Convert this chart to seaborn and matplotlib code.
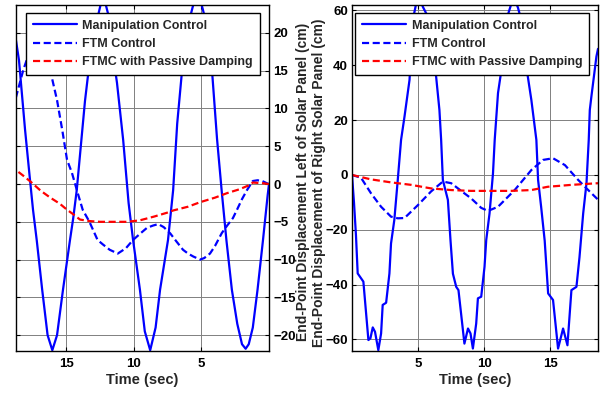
import matplotlib
matplotlib.use("Agg")
import matplotlib.pyplot as plt
import seaborn as sns

# ---------------- data ----------------
# Left solar panel (time axis reversed in the plot)
left_mc_t = [0.0, 0.1, 0.45, 0.85, 1.2, 1.5, 1.73, 2.0, 2.35, 2.75, 3.15, 3.5, 3.85,
             4.2, 4.6, 5.0, 5.3, 5.6, 6.0, 6.37, 6.8, 7.1, 7.48, 8.07, 8.4, 8.8, 9.2,
             9.56, 10.07, 10.4, 10.8, 11.26, 11.5, 11.8, 12.1, 12.4, 12.74, 13.3,
             13.63, 14.24, 14.5, 14.74, 15.26, 15.7, 16.05, 16.4, 16.8, 17.2, 17.48,
             17.7, 18.07, 18.52, 18.74]
left_mc_v = [0.0, -1.5, -7.5, -14.0, -19.0, -21.2, -21.8, -21.2, -18.5, -14.0, -7.5,
             -1.0, 6.0, 14.5, 21.0, 23.8, 24.3, 23.8, 21.0, 16.4, 8.0, -0.8, -7.4,
             -14.0, -19.0, -22.0, -19.5, -14.0, -7.4, -2.5, 5.8, 13.4, 16.4, 21.7,
             23.8, 24.3, 21.7, 16.0, 11.0, -0.8, -4.5, -7.4, -14.0, -20.0, -22.0,
             -20.0, -14.0, -7.5, -3.4, 0.5, 7.2, 16.4, 19.0]

left_ftm_t = [0.0, 0.15, 0.5, 0.85, 1.2, 1.63, 2.0, 2.37, 2.67, 3.1, 3.5, 4.0, 4.37,
              4.8, 5.1, 5.6, 6.0, 6.37, 6.9, 7.33, 7.8, 8.2, 8.6, 9.04, 9.5, 10.07,
              10.6, 11.2, 11.8, 12.3, 12.7, 13.3, 13.8, 14.2, 14.6, 14.96, 15.3,
              15.7, 16.2, 16.7, 17.1, 17.7, 18.2, 18.74]
left_ftm_v = [0.0, 0.1, 0.4, 0.5, 0.4, -0.8, -2.0, -3.4, -4.5, -5.5, -6.5, -8.2, -9.2,
              -9.8, -10.0, -9.6, -9.2, -8.7, -7.5, -6.5, -5.7, -5.3, -5.5, -5.8, -6.5,
              -7.4, -8.5, -9.2, -8.7, -8.0, -7.4, -5.0, -3.4, -1.0, 1.5, 3.2, 7.0,
              11.1, 15.0, 18.0, 19.2, 17.7, 15.1, 11.5]

left_pd_t = [0.0, 0.44, 1.2, 1.4, 2.2, 3.1, 4.0, 5.1, 6.0, 7.1, 7.56, 8.5, 9.56, 10.5,
             11.5, 12.5, 13.3, 14.0, 14.5, 14.96, 15.5, 16.2, 16.9, 17.65, 18.2, 18.74]
left_pd_v = [0.0, 0.1, 0.2, -0.1, -0.7, -1.2, -1.8, -2.4, -3.0, -3.5, -3.8, -4.3, -4.8,
             -5.0, -5.0, -5.0, -4.9, -4.7, -4.0, -3.4, -2.6, -1.8, -0.9, 0.3, 1.1, 1.85]

# Right solar panel
right_mc_t = [0.0, 0.15, 0.3, 0.43, 0.86, 1.24, 1.39, 1.57, 1.74, 1.99, 2.2, 2.32, 2.58,
              2.83, 2.95, 3.2, 3.46, 3.71, 3.97, 4.35, 4.47, 4.6, 4.85, 5.15, 5.35,
              5.86, 5.98, 6.24, 6.36, 6.61, 6.74, 6.87, 7.25, 7.45, 7.63, 7.88, 8.05,
              8.5, 8.77, 8.96, 9.14, 9.39, 9.52, 9.77, 10.02, 10.15, 10.4, 10.66,
              10.79, 11.04, 11.41, 11.67, 12.05, 12.27, 12.55, 13.06, 13.18, 13.56,
              13.94, 14.07, 14.3, 14.57, 14.83, 15.2, 15.58, 15.96, 16.29, 16.59,
              16.97, 17.2, 17.48, 17.73, 17.9, 17.98, 18.1, 18.48, 18.6]
right_mc_v = [0.0, -10.0, -22.0, -35.9, -38.9, -60.2, -59.6, -55.6, -57.2, -63.9,
              -57.8, -47.4, -46.6, -35.9, -25.0, -16.4, -1.8, 12.8, 21.3, 34.7, 45.6,
              56.6, 62.5, 64.5, 61.4, 56.6, 51.8, 39.5, 35.9, 23.7, 12.8, -1.8, -9.1,
              -24.0, -36.0, -40.8, -42.0, -61.5, -56.0, -57.8, -63.3, -54.2, -45.0,
              -44.4, -33.5, -23.7, -14.0, 0.6, 12.8, 29.9, 42.0, 56.6, 62.5, 64.5,
              61.0, 51.8, 39.5, 27.4, 12.8, -1.8, -11.6, -24.0, -43.2, -45.6, -63.3,
              -56.0, -62.1, -42.0, -40.8, -30.0, -14.0, -3.0, 12.8, 23.7, 28.6, 43.2,
              46.0]

right_ftm_t = [0.0, 0.68, 1.44, 2.2, 2.95, 3.46, 3.97, 4.98, 5.98, 6.87, 7.5, 8.5, 9.0,
               9.4, 9.77, 10.28, 11.04, 12.3, 13.56, 14.45, 15.2, 16.1, 17.1, 17.86,
               18.6]
right_ftm_v = [0.0, -1.0, -6.7, -11.6, -15.2, -15.8, -15.7, -11.0, -6.0, -2.4, -3.0,
               -6.7, -8.5, -10.3, -12.0, -13.1, -11.6, -5.5, 1.8, 5.5, 6.1, 3.6, -1.8,
               -5.5, -9.0]

right_pd_t = [0.0, 1.44, 2.95, 4.47, 5.98, 7.5, 9.0, 10.5, 12.0, 13.56, 14.8, 16.6, 18.6]
right_pd_v = [0.0, -1.6, -2.7, -3.6, -4.9, -5.5, -5.8, -5.8, -5.8, -5.5, -4.3, -3.6, -3.0]

labels = ["Manipulation Control", "FTM Control", "FTMC with Passive Damping"]
left_xticks = [5, 10, 15]
right_xticks = [5, 10, 15]
left_yticks = [-20, -15, -10, -5, 0, 5, 10, 15, 20]
right_yticks = [-60, -40, -20, 0, 20, 40, 60]
ylabel_left = "End-Point Displacement Left of Solar Panel (cm)"
ylabel_right = "End-Point Displacement of Right Solar Panel (cm)"
xlabel = "Time (sec)"

# ---------------- styling ----------------
sns.set_theme(style="white")
plt.rcParams["font.family"] = ["Liberation Sans", "DejaVu Sans"]
plt.rcParams["font.weight"] = "bold"
plt.rcParams["axes.labelweight"] = "bold"

W, H = 600, 393
fig = plt.figure(figsize=(6.0, 3.93), dpi=100)
axL = fig.add_axes([16 / W, 1 - 351 / H, 253 / W, 346 / H])
axR = fig.add_axes([352 / W, 1 - 351 / H, 246 / W, 346 / H])

BLUE = "#0000FF"
RED = "#FF0000"
DASH = (0, (3.2, 1.6))


def draw(ax, t, v, color, ls, label):
    sns.lineplot(x=t, y=v, ax=ax, color=color, linestyle=ls, linewidth=1.6,
                 label=label, sort=False, estimator=None)


for ax, series in [
    (axL, [(left_mc_t, left_mc_v), (left_ftm_t, left_ftm_v), (left_pd_t, left_pd_v)]),
    (axR, [(right_mc_t, right_mc_v), (right_ftm_t, right_ftm_v), (right_pd_t, right_pd_v)]),
]:
    draw(ax, series[0][0], series[0][1], BLUE, "-", labels[0])
    draw(ax, series[1][0], series[1][1], BLUE, DASH, labels[1])
    draw(ax, series[2][0], series[2][1], RED, DASH, labels[2])

axL.set_xlim(18.74, 0)
axL.set_ylim(-22.1, 23.7)
axR.set_xlim(0, 18.6)
axR.set_ylim(-64.2, 62)

axL.set_xticks(left_xticks)
axR.set_xticks(right_xticks)
axL.set_yticks(left_yticks)
axR.set_yticks(right_yticks)

for ax in (axL, axR):
    ax.grid(True, color="0.5", linewidth=0.7, linestyle="-")
    ax.set_axisbelow(True)
    for s in ax.spines.values():
        s.set_color("black")
        s.set_linewidth(1.0)
        s.set_visible(True)
    ax.tick_params(axis="both", which="both", direction="in", length=3, width=0.8,
                   colors="black", labelsize=9.5, top=True, bottom=True, left=True,
                   right=True)
    ax.tick_params(axis="x", pad=5)
    ax.tick_params(axis="y", pad=3)
    ax.set_xlabel(xlabel, fontsize=10.5, fontweight="bold", labelpad=2)
    ax.set_ylabel("")
    leg = ax.legend(loc="upper right", bbox_to_anchor=(0.964, 0.977),
                    borderaxespad=0, frameon=True, fancybox=False, framealpha=1,
                    edgecolor="black", prop={"weight": "bold", "size": 9},
                    handlelength=3.5, handletextpad=0.45, labelspacing=0.5,
                    borderpad=0.55)
    leg.get_frame().set_linewidth(1.0)
    leg.set_zorder(10)

axL.tick_params(axis="y", labelleft=False, labelright=True)
axR.tick_params(axis="y", labelleft=True, labelright=False)

for lbl in axL.get_xticklabels() + axL.get_yticklabels() + axR.get_xticklabels() + axR.get_yticklabels():
    lbl.set_fontweight("bold")

fig.text(302.7 / W, 1 - 182 / H, ylabel_left, rotation=90, ha="center", va="center",
         fontsize=10, fontweight="bold")
fig.text(319 / W, 1 - 183 / H, ylabel_right, rotation=90, ha="center", va="center",
         fontsize=10, fontweight="bold")

fig.savefig("out.png", dpi=100)
